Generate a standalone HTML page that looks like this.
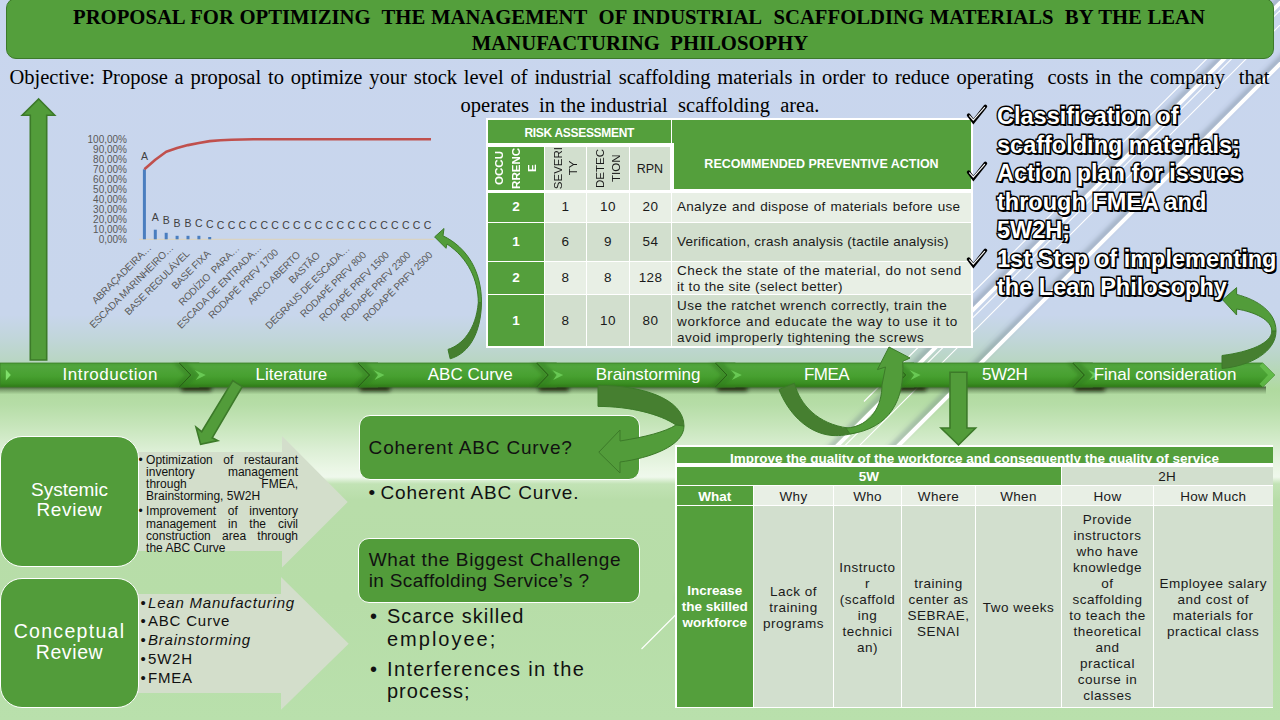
<!DOCTYPE html>
<html><head><meta charset="utf-8">
<style>
*{margin:0;padding:0;box-sizing:border-box}
html,body{width:1280px;height:720px;overflow:hidden}
body{position:relative;font-family:"Liberation Sans",sans-serif;
background:linear-gradient(to bottom,#c9d6ee 0px,#c8d6ec 315px,#c1d6da 338px,#b9d6c4 360px,#b0da9f 390px,#b6dda7 405px,#c6e5ba 425px,#dcefd5 450px,#eaf6e5 468px,#eff8ec 477px,#c2e3b5 484px,#b8dda9 500px,#b7dda8 600px,#b9e0ac 720px);}
.abs{position:absolute}
svg.full{position:absolute;left:0;top:0;width:1280px;height:720px;overflow:visible}
#title{left:6px;top:-2px;width:1268px;height:61px;background:#549f3c;border:1.8px solid #3d7a2a;border-radius:10px}
#title .t{position:absolute;font-family:"Liberation Serif",serif;font-weight:bold;font-size:20.7px;color:#000;white-space:nowrap}
.obj{position:absolute;font-family:"Liberation Serif",serif;font-size:20.5px;color:#000;white-space:nowrap}
.chk{position:absolute;font-weight:bold;font-size:24px;color:#fff;white-space:nowrap;
 -webkit-text-stroke:2.8px #000;paint-order:stroke fill;text-shadow:1.8px 1.8px 0.6px #000}
.ck{position:absolute;font-size:20px;color:#000;font-family:"Liberation Serif",serif}
</style></head><body>

<!-- background diagonal lines -->
<svg class="full" viewBox="0 0 1280 720">
 <defs><filter id="bl" x="-20%" y="-20%" width="140%" height="140%"><feGaussianBlur stdDeviation="2.2"/></filter></defs>
 <g filter="url(#bl)" stroke="#5d6a78" stroke-opacity="0.35">
  <line x1="1298" y1="-20" x2="678" y2="600" stroke="#5d6a78" stroke-width="5.5" />
  <line x1="1359" y1="-20" x2="739" y2="600" stroke="#5d6a78" stroke-width="5.5" />
 </g>
 <line x1="1285.5" y1="-20" x2="864.0" y2="401.5" stroke="#fff" stroke-width="1.1" />
 <line x1="1303" y1="-20" x2="683" y2="600" stroke="#fff" stroke-width="4" />
 <line x1="1310.5" y1="-20" x2="641.5" y2="649" stroke="#fff" stroke-width="1.1" />
 <line x1="1325" y1="-20" x2="705" y2="600" stroke="#fff" stroke-width="1.1" />
 <line x1="1364" y1="-20" x2="744" y2="600" stroke="#fff" stroke-width="4" />
</svg>

<div id="title" class="abs">
 <div class="t" style="left:66px;top:7px;width:1132px;text-align:justify;text-align-last:justify">PROPOSAL FOR OPTIMIZING&nbsp; THE MANAGEMENT&nbsp; OF INDUSTRIAL&nbsp; SCAFFOLDING MATERIALS&nbsp; BY THE LEAN</div>
 <div class="t" style="left:0;top:33px;width:1266px;text-align:center">MANUFACTURING&nbsp; PHILOSOPHY</div>
</div>

<div class="obj" style="left:9.5px;top:65.5px;width:1260px;text-align:justify;text-align-last:justify">Objective: Propose a proposal to optimize your stock level of industrial scaffolding materials in order to reduce operating&nbsp; costs in the company&nbsp; that</div>
<div class="obj" style="left:0;top:93.5px;width:1280px;text-align:center">operates&nbsp; in the industrial&nbsp; scaffolding&nbsp; area.</div>




<!-- chart -->
<svg class="full" viewBox="0 0 1280 720" font-family="Liberation Sans, sans-serif">
<text x="127" y="142.9" font-size="10" fill="#595959" text-anchor="end">100,00%</text>
<text x="127" y="152.9" font-size="10" fill="#595959" text-anchor="end">90,00%</text>
<text x="127" y="162.9" font-size="10" fill="#595959" text-anchor="end">80,00%</text>
<text x="127" y="172.9" font-size="10" fill="#595959" text-anchor="end">70,00%</text>
<text x="127" y="182.9" font-size="10" fill="#595959" text-anchor="end">60,00%</text>
<text x="127" y="192.9" font-size="10" fill="#595959" text-anchor="end">50,00%</text>
<text x="127" y="202.9" font-size="10" fill="#595959" text-anchor="end">40,00%</text>
<text x="127" y="212.9" font-size="10" fill="#595959" text-anchor="end">30,00%</text>
<text x="127" y="222.9" font-size="10" fill="#595959" text-anchor="end">20,00%</text>
<text x="127" y="232.9" font-size="10" fill="#595959" text-anchor="end">10,00%</text>
<text x="127" y="242.9" font-size="10" fill="#595959" text-anchor="end">0,00%</text>
<line x1="139" y1="239.3" x2="434" y2="239.3" stroke="#d9d4c4" stroke-width="1.2"/>
<rect x="142.9" y="169.3" width="3" height="70.0" fill="#4a7ebf"/>
<rect x="153.8" y="229.7" width="3" height="9.6" fill="#4a7ebf"/>
<rect x="164.7" y="232.8" width="3" height="6.5" fill="#4a7ebf"/>
<rect x="175.6" y="235.8" width="3" height="3.5" fill="#4a7ebf"/>
<rect x="186.5" y="235.8" width="3" height="3.5" fill="#4a7ebf"/>
<rect x="197.4" y="235.8" width="3" height="3.5" fill="#4a7ebf"/>
<rect x="208.2" y="237.0" width="3" height="2.3" fill="#4a7ebf"/>
<polyline points="144.4,169.3 155.3,159.8 166.2,151.8 177.1,148.1 188.0,145.1 198.9,143.0 209.7,141.1 220.6,140.3 231.5,139.8 242.4,139.5 253.3,139.3 264.2,139.3 275.1,139.3 286.0,139.3 296.9,139.3 307.8,139.3 318.6,139.3 329.5,139.3 340.4,139.3 351.3,139.3 362.2,139.3 373.1,139.3 384.0,139.3 394.9,139.3 405.8,139.3 416.6,139.3 431,139.3" fill="none" stroke="#c0504d" stroke-width="2.6" stroke-linejoin="round"/>
<text x="144.4" y="160.1" font-size="10.5" fill="#404040" text-anchor="middle">A</text>
<text x="155.3" y="220.5" font-size="10.5" fill="#404040" text-anchor="middle">A</text>
<text x="166.2" y="223.6" font-size="10.5" fill="#404040" text-anchor="middle">B</text>
<text x="177.1" y="226.6" font-size="10.5" fill="#404040" text-anchor="middle">B</text>
<text x="188.0" y="226.6" font-size="10.5" fill="#404040" text-anchor="middle">B</text>
<text x="198.9" y="226.6" font-size="10.5" fill="#404040" text-anchor="middle">C</text>
<text x="209.7" y="227.8" font-size="10.5" fill="#404040" text-anchor="middle">C</text>
<text x="220.6" y="228.8" font-size="10.5" fill="#404040" text-anchor="middle">C</text>
<text x="231.5" y="228.8" font-size="10.5" fill="#404040" text-anchor="middle">C</text>
<text x="242.4" y="228.8" font-size="10.5" fill="#404040" text-anchor="middle">C</text>
<text x="253.3" y="228.8" font-size="10.5" fill="#404040" text-anchor="middle">C</text>
<text x="264.2" y="228.8" font-size="10.5" fill="#404040" text-anchor="middle">C</text>
<text x="275.1" y="228.8" font-size="10.5" fill="#404040" text-anchor="middle">C</text>
<text x="286.0" y="228.8" font-size="10.5" fill="#404040" text-anchor="middle">C</text>
<text x="296.9" y="228.8" font-size="10.5" fill="#404040" text-anchor="middle">C</text>
<text x="307.8" y="228.8" font-size="10.5" fill="#404040" text-anchor="middle">C</text>
<text x="318.6" y="228.8" font-size="10.5" fill="#404040" text-anchor="middle">C</text>
<text x="329.5" y="228.8" font-size="10.5" fill="#404040" text-anchor="middle">C</text>
<text x="340.4" y="228.8" font-size="10.5" fill="#404040" text-anchor="middle">C</text>
<text x="351.3" y="228.8" font-size="10.5" fill="#404040" text-anchor="middle">C</text>
<text x="362.2" y="228.8" font-size="10.5" fill="#404040" text-anchor="middle">C</text>
<text x="373.1" y="228.8" font-size="10.5" fill="#404040" text-anchor="middle">C</text>
<text x="384.0" y="228.8" font-size="10.5" fill="#404040" text-anchor="middle">C</text>
<text x="394.9" y="228.8" font-size="10.5" fill="#404040" text-anchor="middle">C</text>
<text x="405.8" y="228.8" font-size="10.5" fill="#404040" text-anchor="middle">C</text>
<text x="416.6" y="228.8" font-size="10.5" fill="#404040" text-anchor="middle">C</text>
<text x="427.5" y="228.8" font-size="10.5" fill="#404040" text-anchor="middle">C</text>
<text x="152" y="248.5" font-size="10" fill="#595959" text-anchor="end" letter-spacing="-0.2" xml:space="preserve" transform="rotate(-45 152 248.5)">ABRAÇADEIRA…</text>
<text x="174" y="248.5" font-size="10" fill="#595959" text-anchor="end" letter-spacing="-0.2" xml:space="preserve" transform="rotate(-45 174 248.5)">ESCADA MARINHEIRO…</text>
<text x="190" y="254.5" font-size="10" fill="#595959" text-anchor="end" letter-spacing="-0.2" xml:space="preserve" transform="rotate(-45 190 254.5)">BASE REGULÁVEL</text>
<text x="211" y="254.5" font-size="10" fill="#595959" text-anchor="end" letter-spacing="-0.2" xml:space="preserve" transform="rotate(-45 211 254.5)">BASE FIXA</text>
<text x="240" y="249" font-size="10" fill="#595959" text-anchor="end" letter-spacing="-0.2" xml:space="preserve" transform="rotate(-45 240 249)">RODÍZIO  PARA…</text>
<text x="262" y="248.5" font-size="10" fill="#595959" text-anchor="end" letter-spacing="-0.2" xml:space="preserve" transform="rotate(-45 262 248.5)">ESCADA DE ENTRADA…</text>
<text x="278.7" y="253.2" font-size="10" fill="#595959" text-anchor="end" letter-spacing="-0.2" xml:space="preserve" transform="rotate(-45 278.7 253.2)">RODAPÉ PRFV 1700</text>
<text x="301" y="255.7" font-size="10" fill="#595959" text-anchor="end" letter-spacing="-0.2" xml:space="preserve" transform="rotate(-45 301 255.7)">ARCO ABERTO</text>
<text x="320.7" y="256.2" font-size="10" fill="#595959" text-anchor="end" letter-spacing="-0.2" xml:space="preserve" transform="rotate(-45 320.7 256.2)">BASTÃO</text>
<text x="350" y="249.3" font-size="10" fill="#595959" text-anchor="end" letter-spacing="-0.35" xml:space="preserve" transform="rotate(-45 350 249.3)">DEGRAUS DE ESCADA…</text>
<text x="366.7" y="255.7" font-size="10" fill="#595959" text-anchor="end" letter-spacing="-0.2" xml:space="preserve" transform="rotate(-45 366.7 255.7)">RODAPÉ PRFV 800</text>
<text x="389.5" y="255.7" font-size="10" fill="#595959" text-anchor="end" letter-spacing="-0.2" xml:space="preserve" transform="rotate(-45 389.5 255.7)">RODAPÉ PRFV 1500</text>
<text x="411.1" y="255.7" font-size="10" fill="#595959" text-anchor="end" letter-spacing="-0.2" xml:space="preserve" transform="rotate(-45 411.1 255.7)">RODAPÉ PRFV 2300</text>
<text x="433.1" y="255.7" font-size="10" fill="#595959" text-anchor="end" letter-spacing="-0.2" xml:space="preserve" transform="rotate(-45 433.1 255.7)">RODAPÉ PRFV 2500</text>
</svg>
<!-- risk table -->
<div class="abs" style="left:486.3px;top:118px;width:486.5px;height:229.5px;background:#fff"></div>
<style>
.rc{position:absolute;display:flex;align-items:center;justify-content:center;text-align:center;font-size:13.5px;color:#1a1a1a;letter-spacing:0.4px;line-height:16px}
.g{background:#549f3c;color:#fff;font-weight:bold;letter-spacing:0}
.l1{background:#e8efe5}.l2{background:#d2dfce}
.vt{writing-mode:vertical-rl;transform:rotate(180deg);}
</style>
<div class="rc g" style="left:488px;top:119.7px;width:182.5px;height:23.2px;font-size:12px;letter-spacing:-0.3px;padding-top:2.5px">RISK ASSESSMENT</div>
<div class="rc g" style="left:672px;top:119.7px;width:299px;height:69.2px;font-size:12.5px;padding-top:19px">RECOMMENDED PREVENTIVE ACTION</div>
<div class="rc g" style="left:488px;top:147px;width:56px;height:43px;font-size:11.5px;line-height:16.7px"><div class="vt">OCCU<br>RRENC<br>E</div></div>
<div class="rc l2" style="left:545px;top:147px;width:41px;height:43px;font-size:11.5px;letter-spacing:0;line-height:14.7px"><div class="vt">SEVERI<br>TY</div></div>
<div class="rc l2" style="left:587px;top:147px;width:42px;height:43px;font-size:11.5px;letter-spacing:0;line-height:15.5px"><div class="vt">DETEC<br>TION</div></div>
<div class="rc l2" style="left:630px;top:147px;width:39.7px;height:43px;font-size:12.5px;letter-spacing:0">RPN</div>
<div class="abs" style="left:669.7px;top:143px;width:4px;height:49.5px;background:#fff"></div>

<div class="rc g" style="left:488px;top:192.5px;width:56px;height:29.5px">2</div>
<div class="rc l1" style="left:545px;top:192.5px;width:41px;height:29.5px">1</div>
<div class="rc l1" style="left:587px;top:192.5px;width:42px;height:29.5px">10</div>
<div class="rc l1" style="left:630px;top:192.5px;width:41px;height:29.5px">20</div>
<div class="rc l1" style="left:672px;top:192.5px;width:299px;height:29.5px;justify-content:flex-start;text-align:left;padding-left:5px"><span style="letter-spacing:0.3px;word-spacing:0.8px">Analyze and dispose of materials before use</span></div>

<div class="rc g" style="left:488px;top:223px;width:56px;height:38px">1</div>
<div class="rc l2" style="left:545px;top:223px;width:41px;height:38px">6</div>
<div class="rc l2" style="left:587px;top:223px;width:42px;height:38px">9</div>
<div class="rc l2" style="left:630px;top:223px;width:41px;height:38px">54</div>
<div class="rc l2" style="left:672px;top:223px;width:299px;height:38px;justify-content:flex-start;text-align:left;padding-left:5px"><span style="letter-spacing:0.26px">Verification, crash analysis (tactile analysis)</span></div>

<div class="rc g" style="left:488px;top:262px;width:56px;height:32px">2</div>
<div class="rc l1" style="left:545px;top:262px;width:41px;height:32px">8</div>
<div class="rc l1" style="left:587px;top:262px;width:42px;height:32px">8</div>
<div class="rc l1" style="left:630px;top:262px;width:41px;height:32px">128</div>
<div class="rc l1" style="left:672px;top:262px;width:299px;height:32px;justify-content:flex-start;text-align:left;padding-left:5px;padding-top:2px"><div><div style="letter-spacing:0.54px">Check the state of the material, do not send</div><div style="letter-spacing:0.35px">it to the site (select better)</div></div></div>

<div class="rc g" style="left:488px;top:295px;width:56px;height:51px">1</div>
<div class="rc l2" style="left:545px;top:295px;width:41px;height:51px">8</div>
<div class="rc l2" style="left:587px;top:295px;width:42px;height:51px">10</div>
<div class="rc l2" style="left:630px;top:295px;width:41px;height:51px">80</div>
<div class="rc l2" style="left:672px;top:295px;width:299px;height:51px;justify-content:flex-start;text-align:left;padding-left:5px;padding-top:2.6px"><div><div style="letter-spacing:0.5px">Use the ratchet wrench correctly, train the</div><div style="letter-spacing:0.67px">workforce and educate the way to use it to</div><div style="letter-spacing:0.46px">avoid improperly tightening the screws</div></div></div>


<!-- timeline -->
<svg class="full" viewBox="0 0 1280 720" font-family="Liberation Sans, sans-serif">
<defs>
<linearGradient id="segg" x1="0" y1="0" x2="0" y2="1">
<stop offset="0" stop-color="#4a9e36"/><stop offset="0.15" stop-color="#51a63c"/><stop offset="0.55" stop-color="#47a030"/><stop offset="0.85" stop-color="#3a8e22"/><stop offset="1" stop-color="#2e7a16"/>
</linearGradient>
<filter id="nb" x="-50%" y="-50%" width="200%" height="200%"><feGaussianBlur stdDeviation="1.5"/></filter>
<filter id="sh" x="-5%" y="-100%" width="110%" height="300%"><feGaussianBlur stdDeviation="2.2"/></filter>
<linearGradient id="shg" x1="0" y1="0" x2="0" y2="1"><stop offset="0" stop-color="#1e3214" stop-opacity="0.75"/><stop offset="0.4" stop-color="#2a4220" stop-opacity="0.4"/><stop offset="1" stop-color="#3a5a30" stop-opacity="0"/></linearGradient>
<linearGradient id="notchg" x1="0" y1="0" x2="1" y2="0"><stop offset="0" stop-color="#2c6a18" stop-opacity="0.9"/><stop offset="1" stop-color="#2c6a18" stop-opacity="0"/></linearGradient>
</defs>
<rect x="0" y="386.5" width="1266" height="8" fill="url(#shg)"/>
<g filter="url(#sh)"><rect x="181.3" y="385" width="30" height="6" fill="#0a1a05" opacity="0.85"/><rect x="360.0" y="385" width="30" height="6" fill="#0a1a05" opacity="0.85"/><rect x="538.7" y="385" width="30" height="6" fill="#0a1a05" opacity="0.85"/><rect x="717.4" y="385" width="30" height="6" fill="#0a1a05" opacity="0.85"/><rect x="896.1" y="385" width="30" height="6" fill="#0a1a05" opacity="0.85"/><rect x="1074.8" y="385" width="30" height="6" fill="#0a1a05" opacity="0.85"/></g>
<polygon points="0.0,363.0 199.3,363.0 211.3,375.0 199.3,387.0 0.0,387.0" fill="url(#segg)" stroke="#3b7d27" stroke-width="0.8"/>
<polygon points="179.3,363.0 378.0,363.0 390.0,375.0 378.0,387.0 179.3,387.0 190.8,375.0" fill="url(#segg)" stroke="#3b7d27" stroke-width="0.8"/>
<polygon points="173.3,363 179.3,363 190.8,375 179.3,387 173.3,387 184.8,375" fill="#2a6a15" opacity="0.35" filter="url(#nb)"/><polygon points="179.3,363 190.8,375 179.3,387 187.3,387 198.8,375 187.3,363" fill="#2f7a1c" opacity="0.45" filter="url(#nb)"/>
<polyline points="179.3,363 190.8,375 179.3,387" fill="none" stroke="#285f16" stroke-width="1"/>
<polygon points="194.8,370 205.8,375 195.8,380 199.3,375" fill="#6fd05a" opacity="0.85"/>
<polygon points="358.0,363.0 556.7,363.0 568.7,375.0 556.7,387.0 358.0,387.0 369.5,375.0" fill="url(#segg)" stroke="#3b7d27" stroke-width="0.8"/>
<polygon points="352.0,363 358.0,363 369.5,375 358.0,387 352.0,387 363.5,375" fill="#2a6a15" opacity="0.35" filter="url(#nb)"/><polygon points="358.0,363 369.5,375 358.0,387 366.0,387 377.5,375 366.0,363" fill="#2f7a1c" opacity="0.45" filter="url(#nb)"/>
<polyline points="358.0,363 369.5,375 358.0,387" fill="none" stroke="#285f16" stroke-width="1"/>
<polygon points="373.5,370 384.5,375 374.5,380 378.0,375" fill="#6fd05a" opacity="0.85"/>
<polygon points="536.7,363.0 735.4,363.0 747.4,375.0 735.4,387.0 536.7,387.0 548.2,375.0" fill="url(#segg)" stroke="#3b7d27" stroke-width="0.8"/>
<polygon points="530.7,363 536.7,363 548.2,375 536.7,387 530.7,387 542.2,375" fill="#2a6a15" opacity="0.35" filter="url(#nb)"/><polygon points="536.7,363 548.2,375 536.7,387 544.7,387 556.2,375 544.7,363" fill="#2f7a1c" opacity="0.45" filter="url(#nb)"/>
<polyline points="536.7,363 548.2,375 536.7,387" fill="none" stroke="#285f16" stroke-width="1"/>
<polygon points="552.2,370 563.2,375 553.2,380 556.7,375" fill="#6fd05a" opacity="0.85"/>
<polygon points="715.4,363.0 914.1,363.0 926.1,375.0 914.1,387.0 715.4,387.0 726.9,375.0" fill="url(#segg)" stroke="#3b7d27" stroke-width="0.8"/>
<polygon points="709.4,363 715.4,363 726.9,375 715.4,387 709.4,387 720.9,375" fill="#2a6a15" opacity="0.35" filter="url(#nb)"/><polygon points="715.4,363 726.9,375 715.4,387 723.4,387 734.9,375 723.4,363" fill="#2f7a1c" opacity="0.45" filter="url(#nb)"/>
<polyline points="715.4,363 726.9,375 715.4,387" fill="none" stroke="#285f16" stroke-width="1"/>
<polygon points="730.9,370 741.9,375 731.9,380 735.4,375" fill="#6fd05a" opacity="0.85"/>
<polygon points="894.1,363.0 1092.8,363.0 1104.8,375.0 1092.8,387.0 894.1,387.0 905.6,375.0" fill="url(#segg)" stroke="#3b7d27" stroke-width="0.8"/>
<polygon points="888.1,363 894.1,363 905.6,375 894.1,387 888.1,387 899.6,375" fill="#2a6a15" opacity="0.35" filter="url(#nb)"/><polygon points="894.1,363 905.6,375 894.1,387 902.1,387 913.6,375 902.1,363" fill="#2f7a1c" opacity="0.45" filter="url(#nb)"/>
<polyline points="894.1,363 905.6,375 894.1,387" fill="none" stroke="#285f16" stroke-width="1"/>
<polygon points="909.6,370 920.6,375 910.6,380 914.1,375" fill="#6fd05a" opacity="0.85"/>
<polygon points="1072.8,363.0 1262.7,363.0 1274.7,375.0 1262.7,387.0 1072.8,387.0 1084.3,375.0" fill="url(#segg)" stroke="#3b7d27" stroke-width="0.8"/>
<polygon points="1066.8,363 1072.8,363 1084.3,375 1072.8,387 1066.8,387 1078.3,375" fill="#2a6a15" opacity="0.35" filter="url(#nb)"/><polygon points="1072.8,363 1084.3,375 1072.8,387 1080.8,387 1092.3,375 1080.8,363" fill="#2f7a1c" opacity="0.45" filter="url(#nb)"/>
<polyline points="1072.8,363 1084.3,375 1072.8,387" fill="none" stroke="#285f16" stroke-width="1"/>
<polygon points="1088.3,370 1099.3,375 1089.3,380 1092.8,375" fill="#6fd05a" opacity="0.85"/>
<polygon points="1262.8,363 1274.7,375 1262.8,387 1259.5,384 1268,375 1259.5,366" fill="#6cc653" opacity="0.7"/>
<polygon points="5.8,369.5 10.8,375 5.8,380.5" fill="#7fe06a"/>
<text x="110.3" y="379.7" font-size="17" fill="#fff" text-anchor="middle" letter-spacing="0.55">Introduction</text>
<text x="291.4" y="379.7" font-size="17" fill="#fff" text-anchor="middle">Literature</text>
<text x="470.3" y="379.7" font-size="17" fill="#fff" text-anchor="middle">ABC Curve</text>
<text x="648.1" y="379.7" font-size="17" fill="#fff" text-anchor="middle">Brainstorming</text>
<text x="826.5" y="379.7" font-size="17" fill="#fff" text-anchor="middle" letter-spacing="-0.5">FMEA</text>
<text x="1004.7" y="379.7" font-size="17" fill="#fff" text-anchor="middle" letter-spacing="-0.5">5W2H</text>
<text x="1165" y="379.7" font-size="17" fill="#fff" text-anchor="middle">Final consideration</text>
</svg>

<!-- left bottom -->
<svg class="full" viewBox="0 0 1280 720">
 <polygon points="130,452 282,452 282,436 347.7,502 282,567.5 282,551 130,551" fill="#d3decb"/>
 <polygon points="130,594 281,594 281,577 348.7,643.7 281,709.8 281,693 130,693" fill="#d3decb"/>
</svg>
<style>
.gbox{position:absolute;background:#529c3a;border:1.6px solid #fff;color:#fff;text-align:center}
.bl{position:absolute;color:#111;white-space:nowrap}
</style>
<div class="gbox" style="left:0;top:436px;width:139px;height:130.5px;border-radius:22px;font-size:19px;line-height:20.8px;padding-top:42.7px">Systemic<br><span style="letter-spacing:0.6px">Review</span></div>
<div class="gbox" style="left:0;top:578.4px;width:139px;height:130px;border-radius:22px;font-size:19.5px;line-height:20.5px;padding-top:41.7px"><span style="letter-spacing:1.3px">Conceptual</span><br><span style="letter-spacing:0.6px">Review</span></div>

<div class="abs" style="left:138.5px;top:454px;width:159.5px;font-size:12px;line-height:12.15px;color:#111">
 <div style="position:relative;padding-left:7.6px;text-align:justify"><span style="position:absolute;left:0;top:0">•</span>Optimization of restaurant inventory management through FMEA, Brainstorming, 5W2H</div>
 <div style="position:relative;padding-left:7.6px;text-align:justify;margin-top:2.8px"><span style="position:absolute;left:0;top:0">•</span>Improvement of inventory management in the civil construction area through the ABC Curve</div>
</div>
<div class="abs" style="left:140.5px;top:593.6px;font-size:15px;line-height:18.85px;color:#111;letter-spacing:0.8px">
 <div style="position:relative;padding-left:7.5px"><span style="position:absolute;left:0;letter-spacing:0">•</span><i>Lean Manufacturing</i></div>
 <div style="position:relative;padding-left:7.5px"><span style="position:absolute;left:0;letter-spacing:0">•</span>ABC Curve</div>
 <div style="position:relative;padding-left:7.5px"><span style="position:absolute;left:0;letter-spacing:0">•</span><i>Brainstorming</i></div>
 <div style="position:relative;padding-left:7.5px"><span style="position:absolute;left:0;letter-spacing:0">•</span>5W2H</div>
 <div style="position:relative;padding-left:7.5px"><span style="position:absolute;left:0;letter-spacing:0">•</span>FMEA</div>
</div>

<!-- middle -->
<div class="abs" style="left:359.3px;top:414.6px;width:280.7px;height:65.1px;background:#529c3a;border:1.5px solid #fff;border-radius:11px"></div>
<div class="bl" style="left:368.6px;top:436.5px;font-size:19px;letter-spacing:0.85px;color:#111">Coherent ABC Curve?</div>
<div class="bl" style="left:368.5px;top:482px;font-size:19px;color:#111">•</div><div class="bl" style="left:380.5px;top:482px;font-size:19px;color:#111;letter-spacing:0.85px">Coherent ABC Curve.</div>

<div class="abs" style="left:358.3px;top:537.5px;width:282.2px;height:65px;background:#529c3a;border:1.5px solid #fff;border-radius:11px"></div>
<div class="bl" style="left:368.7px;top:548.8px;font-size:19px;line-height:21.3px;letter-spacing:0.65px;color:#111">What the Biggest Challenge<br><span style="letter-spacing:0.35px">in Scaffolding Service’s ?</span></div>
<div class="bl" style="left:370px;top:605.2px;font-size:20px;line-height:22.5px;color:#111">
 <div style="position:relative;padding-left:17px;letter-spacing:1px"><span style="position:absolute;left:0;letter-spacing:0">•</span>Scarce skilled<br><span style="letter-spacing:2px">employee;</span></div>
 <div style="position:relative;padding-left:17px;letter-spacing:1px;margin-top:7.5px"><span style="position:absolute;left:0;letter-spacing:0">•</span><span style="letter-spacing:1.35px">Interferences in the</span><br>process;</div>
</div>


<!-- 5W2H table -->
<div class="abs" style="left:675.4px;top:445.4px;width:598.1px;height:262.6px;background:#fff"></div>
<style>.wc{position:absolute;display:flex;align-items:center;justify-content:center;text-align:center;font-size:13.5px;letter-spacing:0.3px;line-height:16px;color:#1a1a1a;white-space:nowrap}.wc.g{color:#fff;font-weight:bold;letter-spacing:0}</style>
<div class="wc g" style="left:676.5px;top:446.5px;width:596px;height:16.9px;overflow:hidden;align-items:flex-start"><span style="font-size:13.5px;letter-spacing:0;line-height:17px;position:relative;top:3.5px">Improve the quality of the workforce and consequently the quality of service</span></div>
<div class="wc g" style="left:676.5px;top:467px;width:384.5px;height:17.6px;padding-top:3px">5W</div>
<div class="wc l2" style="left:1062px;top:467px;width:210.5px;height:17.6px;padding-top:3px">2H</div>
<div class="wc g" style="left:676.5px;top:485.5px;width:76.5px;height:19.5px;padding-top:4px">What</div>
<div class="wc l1" style="left:754px;top:485.5px;width:79.0px;height:19.5px;padding-top:4px">Why</div>
<div class="wc l1" style="left:834px;top:485.5px;width:67.0px;height:19.5px;padding-top:4px">Who</div>
<div class="wc l1" style="left:902px;top:485.5px;width:73.0px;height:19.5px;padding-top:4px">Where</div>
<div class="wc l1" style="left:976px;top:485.5px;width:85.0px;height:19.5px;padding-top:4px">When</div>
<div class="wc l1" style="left:1062px;top:485.5px;width:91.0px;height:19.5px;padding-top:4px">How</div>
<div class="wc l1" style="left:1154px;top:485.5px;width:118.5px;height:19.5px;padding-top:4px">How Much</div>
<div class="wc g" style="left:676.5px;top:506px;width:76.5px;height:201px">Increase<br>the skilled<br>workforce</div>
<div class="wc l2" style="left:754px;top:506px;width:79.0px;height:201px;padding-top:2px;letter-spacing:0.5px">Lack of<br>training<br>programs</div>
<div class="wc l2" style="left:834px;top:506px;width:67.0px;height:201px;padding-top:2px;letter-spacing:0.5px">Instructo<br>r<br>(scaffold<br>ing<br>technici<br>an)</div>
<div class="wc l2" style="left:902px;top:506px;width:73.0px;height:201px;padding-top:2px;letter-spacing:0.5px">training<br>center as<br>SEBRAE,<br>SENAI</div>
<div class="wc l2" style="left:976px;top:506px;width:85.0px;height:201px;padding-top:2px;letter-spacing:0.5px">Two weeks</div>
<div class="wc l2" style="left:1062px;top:506px;width:91.0px;height:201px;padding-top:2px;letter-spacing:0.5px">Provide<br>instructors<br>who have<br>knowledge<br>of<br>scaffolding<br>to teach the<br>theoretical<br>and<br>practical<br>course in<br>classes</div>
<div class="wc l2" style="left:1154px;top:506px;width:118.5px;height:201px;padding-top:2px;letter-spacing:0.5px">Employee salary<br>and cost of<br>materials for<br>practical class</div>

<!-- arrows -->
<svg class="full" viewBox="0 0 1280 720">
 <g stroke="#3c7a29" stroke-width="1.6" stroke-linejoin="miter">
  <!-- up arrow left -->
  <polygon points="38.7,99 54.7,115.3 46.7,115.3 46.7,360 30.3,360 30.3,115.3 22.2,115.3" fill="#529c3a"/>
  <!-- literature diagonal arrow -->
  <polygon points="232.8,380.6 242.2,386.7 212.2,437.8 217.8,440.6 200.6,444.4 196,427.2 201.7,431.7" fill="#529c3a"/>
  <!-- 5W2H down arrow -->
  <polygon points="950,372.3 966.9,372.3 966.9,428 975.6,428 958.5,445 941,428 950,428" fill="#529c3a"/>
 </g>
 <g stroke="#3c7a29" stroke-width="1" stroke-linejoin="round">
  <!-- brainstorming curved arrow: dark back part -->
  <path d="M598,385.3 C640,385.3 684,398 684,426 L676,425 C660,414 630,406.4 598,406.4 Z" fill="#467f30"/>
  <!-- front part -->
  <path d="M684,426 C684,446 650,458 620,462 L620,473 L598.8,452.2 L620,430 L620,441 C645,437 665,432 676,425 Z" fill="#529c3a"/>

  <!-- FMEA curved up arrow: dark back part -->
  <path d="M779,389.5 L794.4,383.2 C800,405 818,424 848,428 L860,431 C850,435 840,436 832,435.5 C805,433 787,410 779,389.5 Z" fill="#467f30"/>
  <path d="M846,428.2 C872,426 882,405 882,385 L885.5,367 L877.4,369.6 L889,347 L910,358 L902.7,361.5 C905,400 890,428 850,434 Z" fill="#529c3a"/>

  <!-- ABC curve arrow (up-left to chart) -->
  <path d="M448,349.4 C462,345 476,330 478.3,302.5 L481.5,302.5 C481,332 470,353 450.2,358.8 Z" fill="#467f30"/>
  <path d="M481.5,302.5 C481.5,272 468,248 443,235.8 L444,228.5 L434.6,236.9 L446,248.3 L447,244 C468,258 478.3,280 478.3,302.5 Z" fill="#529c3a"/>

  <!-- final consideration curved arrow -->
  <path d="M1222,355.5 C1250,352 1271.8,343 1271.8,331 L1276,331 C1276,352 1250,366 1222,368.5 Z" fill="#467f30"/>
  <path d="M1276,331 C1276,312 1258,300 1236.6,294.4 L1236.6,287.6 L1222.6,299.8 L1236.6,315 L1236.6,309 C1255,312 1271.8,320 1271.8,331 Z" fill="#529c3a"/>
 </g>
</svg>

<!-- check list -->
<div class="chk" style="left:997px;top:102.2px;line-height:28.5px;font-size:23.5px">Classification of<br>scaffolding materials;<br>Action plan for issues<br>through FMEA and<br>5W2H;<br>1st Step of implementing<br>the Lean Philosophy</div>
<svg class="full" viewBox="0 0 1280 720">
 <g id="ckg" fill="none" stroke-linecap="round" stroke-linejoin="miter">
  <path d="M968.6,115.2 L973.4,121.6 L985.4,106.4" stroke="#000" stroke-width="3.6"/>
  <path d="M969.6,115.8 L973.3,120.2 L984.6,107.4" stroke="#fff" stroke-width="1.1"/>
 </g>
 <use href="#ckg" transform="translate(0,57)"/>
 <use href="#ckg" transform="translate(0,144)"/>
</svg>
</body></html>
